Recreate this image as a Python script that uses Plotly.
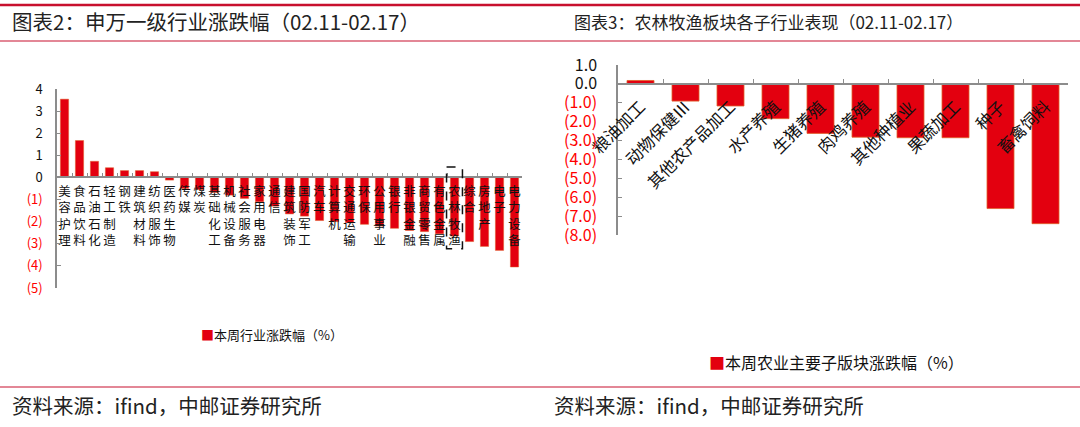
import plotly.graph_objects as go

# 图表2 申万一级行业
industries = ['美容护理', '食品饮料', '石油石化', '轻工制造', '钢铁', '建筑材料', '纺织服饰', '医药生物',
              '传媒', '煤炭', '基础化工', '机械设备', '社会服务', '家用电器', '通信', '建筑装饰',
              '国防军工', '汽车', '计算机', '交通运输', '环保', '公用事业', '银行', '非银金融',
              '商贸零售', '有色金属', '农林牧渔', '综合', '房地产', '电子', '电力设备']
industry_chg = [3.54, 1.67, 0.73, 0.44, 0.31, 0.31, 0.26, -0.12,
                -0.5, -0.55, -0.68, -0.8, -0.95, -1.1, -1.3, -1.65,
                -1.75, -1.95, -2.0, -2.05, -2.12, -2.2, -2.3, -2.4,
                -2.45, -2.55, -2.65, -2.9, -3.12, -3.3, -4.05]
left_ticks = [4, 3, 2, 1, 0, -1, -2, -3, -4, -5]
left_ticktext = ['4', '3', '2', '1', '0', '(1)', '(2)', '(3)', '(4)', '(5)']

# 图表3 农林牧渔子行业
sub_sectors = ['粮油加工', '动物保健Ⅲ', '其他农产品加工', '水产养殖', '生猪养殖',
               '肉鸡养殖', '其他种植业', '果蔬加工', '种子', '畜禽饲料']
sub_chg = [0.18, -0.91, -1.17, -1.84, -2.62, -2.82, -2.85, -2.85, -6.6, -7.4]
right_ticks = [1, 0, -1, -2, -3, -4, -5, -6, -7, -8]
right_ticktext = ['1.0', '0.0', '(1.0)', '(2.0)', '(3.0)', '(4.0)', '(5.0)', '(6.0)', '(7.0)', '(8.0)']

highlight = '农林牧渔'

W, H = 1080, 427
FONT = 'Noto Sans CJK SC'
BAR = '#E3000F'
RED = '#C8102E'
AXIS = '#8C8C8C'


def px_x(p):
    return p / W


def px_y(p):
    return 1 - p / H


def colored(vals, texts):
    return [t if v >= 0 else '<span style="color:#FF0000">%s</span>' % t for v, t in zip(vals, texts)]


def zero_pos(domain, rng):
    return domain[0] + (0 - rng[0]) / (rng[1] - rng[0]) * (domain[1] - domain[0])


fig = go.Figure()
fig.add_trace(go.Bar(x=industries, y=industry_chg, xaxis='x', yaxis='y',
                     marker=dict(color=BAR, line=dict(color='#E0602A', width=0.5)),
                     width=0.55, showlegend=False))
fig.add_trace(go.Bar(x=sub_sectors, y=sub_chg, xaxis='x2', yaxis='y2',
                     marker=dict(color=BAR, line=dict(color='#E0602A', width=0.8)),
                     width=0.6, showlegend=False))

ly_dom = [px_y(288), px_y(89)]
ly_rng = [-5, 4]
ry_dom = [px_y(235), px_y(65)]
ry_rng = [-8, 1]

fig.update_layout(
    width=W, height=H,
    margin=dict(l=0, r=0, t=0, b=0, autoexpand=False),
    paper_bgcolor='white', plot_bgcolor='white',
    font=dict(family=FONT, color='#111'),
    xaxis=dict(domain=[px_x(57), px_x(522)], anchor='free', position=zero_pos(ly_dom, ly_rng),
               tickvals=industries, ticktext=['<br>'.join(n) for n in industries],
               tickfont=dict(size=12.5, color='#111'), tickangle=0, automargin=False,
               ticklabelstandoff=3,
               showline=True, linecolor=AXIS, linewidth=1.5,
               ticks='inside', tickson='boundaries', ticklen=4, tickcolor=AXIS,
               showgrid=False, zeroline=False, fixedrange=True),
    yaxis=dict(domain=ly_dom, range=ly_rng, anchor='x', automargin=False,
               tickvals=left_ticks, ticktext=colored(left_ticks, left_ticktext),
               tickfont=dict(size=13, color='#111'),
               showline=True, linecolor=AXIS, linewidth=1.5,
               ticks='inside', ticklen=4, tickcolor=AXIS, ticklabelstandoff=10,
               showgrid=False, zeroline=False),
    xaxis2=dict(domain=[px_x(618), px_x(1068)], anchor='free', position=zero_pos(ry_dom, ry_rng),
                tickvals=sub_sectors, ticktext=sub_sectors, tickangle=-45, automargin=False,
                tickfont=dict(size=16.5, color='#111'), ticklabelstandoff=6,
                showline=True, linecolor=AXIS, linewidth=1.5,
                ticks='inside', tickson='boundaries', ticklen=4, tickcolor=AXIS,
                showgrid=False, zeroline=False),
    yaxis2=dict(domain=ry_dom, range=ry_rng, anchor='x2', automargin=False,
                tickvals=right_ticks, ticktext=colored(right_ticks, right_ticktext),
                tickfont=dict(size=16, color='#111'),
                showline=True, linecolor=AXIS, linewidth=1.5,
                ticks='inside', ticklen=4, tickcolor=AXIS, ticklabelstandoff=16,
                showgrid=False, zeroline=False),
)

# highlight box around 农林牧渔
hi = industries.index(highlight)
fig.add_shape(type='rect', xref='x', yref='y', x0=hi - 0.53, x1=hi + 0.53, y0=0.47, y1=-3.23,
              line=dict(color='#111', width=1.5, dash='dash'))

# header / footer rules
for y, w in [(5, 2.5), (41, 1.2), (387, 1.2)]:
    fig.add_shape(type='line', xref='paper', yref='paper', x0=0, x1=1, y0=px_y(y), y1=px_y(y),
                  line=dict(color=RED, width=w))

texts = [
    (10, 21, '图表2：申万一级行业涨跌幅（02.11-02.17）', 20.5),
    (572, 21, '图表3：农林牧渔板块各子行业表现（02.11-02.17）', 17),
    (10, 405, '资料来源：ifind，中邮证券研究所', 20.5),
    (552, 405, '资料来源：ifind，中邮证券研究所', 20.5),
]
for x, y, t, s in texts:
    fig.add_annotation(x=px_x(x), y=px_y(y), xref='paper', yref='paper', text=t, showarrow=False,
                       xanchor='left', yanchor='middle', font=dict(size=s, color='#222', family=FONT))

legends = [
    (199, 334, '本周行业涨跌幅（%）', 13),
    (707, 362, '本周农业主要子版块涨跌幅（%）', 16),
]
for x, y, t, s in legends:
    fig.add_annotation(x=px_x(x), y=px_y(y), xref='paper', yref='paper',
                       text='<span style="color:%s">■</span>%s' % (BAR, t), showarrow=False,
                       xanchor='left', yanchor='middle', font=dict(size=s, color='#111', family=FONT))

fig.write_html('out.html', config={'displayModeBar': False},
               post_script="document.body.style.margin='0';")
